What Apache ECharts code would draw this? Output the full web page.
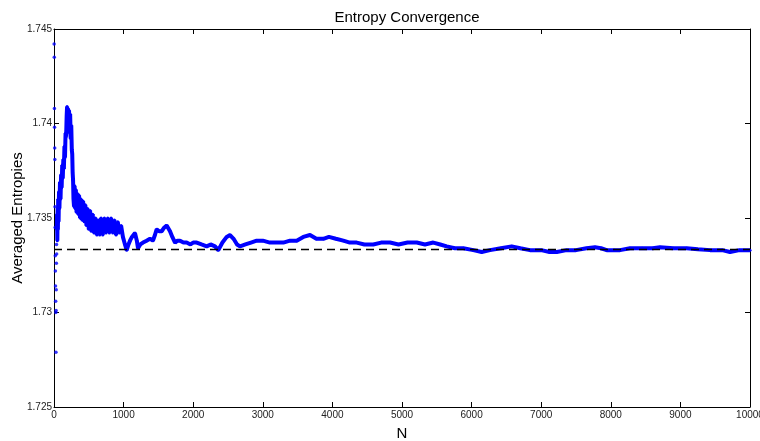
<!DOCTYPE html>
<html>
<head>
<meta charset="utf-8">
<script src="https://cdn.jsdelivr.net/npm/echarts@6/dist/echarts.min.js"></script>
<style>html,body{margin:0;padding:0;background:#fff}#c{width:760px;height:441px}</style>
</head>
<body>
<div id="c"></div>
<script>
// Early isolated averages (small N)
var earlyN = [2,4,6,8,10,12,14,16,18,20,22,24,26,28,30,32,34,36,38];
var earlyEntropy = [1.7442,1.7435,1.7408,1.7398,1.7387,1.7381,1.7356,1.7345,1.7330,1.7322,1.7314,1.7306,1.7300,1.7279,1.7301,1.7312,1.7326,1.7336,1.7331];

// Main averaged entropy trace
var traceN = [40,44,48,52,56,60,66,72,78,86,94,102,110,118,126,134,142,150,158,166,174,182,188,194,200,208,216,224,232,240,248,256,262,268,274,280,288,296,304,314,324,336,348,360,374,388,402,418,434,450,466,482,500,518,536,556,576,596,616,636,656,676,700,724,748,772,796,820,844,868,892,916,940,964,990,1020,1044,1070,1092,1120,1164,1190,1207,1240,1279,1330,1379,1422,1450,1475,1510,1547,1585,1619,1667,1700,1739,1775,1810,1860,1906,1960,2000,2050,2120,2194,2250,2313,2361,2420,2481,2529,2580,2630,2672,2750,2830,2912,3000,3103,3200,3295,3391,3487,3582,3678,3770,3870,3950,4050,4157,4250,4349,4460,4588,4700,4828,4950,5080,5211,5330,5450,5550,5642,5760,5881,6025,6145,6264,6420,6576,6700,6839,7000,7120,7223,7366,7500,7650,7773,7860,7941,8050,8132,8276,8450,8600,8707,8900,9091,9250,9425,9600,9713,9850,10000];
var traceEntropy = [1.7344,1.7352,1.7338,1.7355,1.7344,1.7360,1.7348,1.7364,1.7355,1.7369,1.7360,1.7373,1.7366,1.7378,1.7371,1.7381,1.7376,1.7388,1.7382,1.7395,1.7393,1.7404,1.7409,1.7400,1.7408,1.7398,1.7407,1.7395,1.7405,1.7392,1.7399,1.7386,1.7384,1.7374,1.7370,1.7360,1.7356,1.7367,1.7355,1.7365,1.7353,1.7363,1.7352,1.7362,1.7350,1.7360,1.7349,1.7359,1.7348,1.7357,1.7346,1.7355,1.7344,1.7354,1.7343,1.7352,1.7342,1.7350,1.7341,1.7349,1.7341,1.7350,1.7341,1.7350,1.7342,1.7350,1.7342,1.7350,1.7342,1.7349,1.7341,1.7348,1.7342,1.7346,1.7340,1.7336,1.7333,1.7336,1.7338,1.7340,1.7342,1.7338,1.7334,1.7336,1.7337,1.7338,1.7339,1.7338,1.7341,1.7344,1.7343,1.7343,1.7345,1.7346,1.7343,1.7340,1.7337,1.7338,1.7338,1.7337,1.7337,1.7336,1.7337,1.7337,1.7336,1.7335,1.7336,1.7335,1.7333,1.7337,1.7340,1.7341,1.7339,1.7336,1.7335,1.7336,1.7337,1.7338,1.7338,1.7337,1.7337,1.7337,1.7338,1.7338,1.7340,1.7341,1.7339,1.7339,1.7340,1.7339,1.7338,1.7337,1.7337,1.7336,1.7336,1.7337,1.7337,1.7336,1.7337,1.7337,1.7336,1.7337,1.7336,1.7335,1.7334,1.7334,1.7333,1.7332,1.7333,1.7334,1.7335,1.7334,1.7333,1.7333,1.7332,1.7332,1.7333,1.7333,1.7334,1.73345,1.7334,1.7333,1.7333,1.7333,1.7334,1.7334,1.7334,1.73345,1.7334,1.7334,1.73335,1.7333,1.7333,1.7332,1.7333,1.7333];

// Reference (true) entropy level
var refN = [0, 10000];
var refEntropy = [1.73333, 1.73333];

var xTicks = [0,1000,2000,3000,4000,5000,6000,7000,8000,9000,10000];
var yTicks = [1.725,1.73,1.735,1.74,1.745];

function pairs(a, b) { return a.map(function (v, i) { return [v, b[i]]; }); }

var chart = echarts.init(document.getElementById('c'), null, {renderer: 'canvas'});
var FONT = 'Liberation Sans, Arial, sans-serif';
var axisCommon = {
  axisLine: {show: true, onZero: false, lineStyle: {color: '#000', width: 1}},
  axisTick: {show: true, inside: true, length: 5, lineStyle: {color: '#000'}},
  splitLine: {show: false}
};
chart.setOption({
  animation: false,
  backgroundColor: '#fff',
  title: {
    text: 'Entropy Convergence', left: 402, top: 5, textAlign: 'center',
    textStyle: {fontFamily: FONT, fontSize: 15, fontWeight: 'normal', color: '#000'}
  },
  grid: {left: 54, right: 10, top: 29, bottom: 34, containLabel: false, outerBoundsMode: 'none'},
  xAxis: [
    Object.assign({
      type: 'value', min: 0, max: 10000, interval: 1000, position: 'bottom',
      name: 'N', nameLocation: 'middle', nameGap: 19, nameMoveOverlap: false,
      nameTextStyle: {fontFamily: FONT, fontSize: 15, color: '#000'},
      axisLabel: {fontFamily: FONT, fontSize: 10, color: '#222', margin: 3, hideOverlap: false,
        formatter: function (v) { return xTicks.indexOf(v) >= 0 ? String(v) : ''; }}
    }, axisCommon),
    Object.assign({
      type: 'value', min: 0, max: 10000, interval: 1000, position: 'top',
      axisLabel: {show: false}
    }, axisCommon)
  ],
  yAxis: [
    Object.assign({
      type: 'value', min: 1.725, max: 1.745, interval: 0.005, position: 'left',
      name: 'Averaged Entropies', nameLocation: 'middle', nameGap: 29, nameRotate: 90,
      nameMoveOverlap: false,
      nameTextStyle: {fontFamily: FONT, fontSize: 15, color: '#000'},
      axisLabel: {fontFamily: FONT, fontSize: 10, color: '#222', margin: 2,
        formatter: function (v) {
          for (var i = 0; i < yTicks.length; i++) {
            if (Math.abs(yTicks[i] - v) < 1e-9) return String(yTicks[i]);
          }
          return '';
        }}
    }, axisCommon),
    Object.assign({
      type: 'value', min: 1.725, max: 1.745, interval: 0.005, position: 'right',
      axisLabel: {show: false}
    }, axisCommon)
  ],
  series: [
    {
      type: 'line', data: pairs(traceN, traceEntropy), xAxisIndex: 0, yAxisIndex: 0,
      showSymbol: true, symbol: 'circle', symbolSize: 3,
      itemStyle: {color: '#0000ff'},
      lineStyle: {color: '#0000ff', width: 4},
      z: 2
    },
    {
      type: 'scatter', data: pairs(earlyN, earlyEntropy), xAxisIndex: 0, yAxisIndex: 0,
      symbol: 'circle', symbolSize: 3.5, itemStyle: {color: '#0000ff'}, z: 2
    },
    {
      type: 'line', data: pairs(refN, refEntropy), xAxisIndex: 0, yAxisIndex: 0,
      showSymbol: false, lineStyle: {color: '#000', width: 1.6, type: [8, 5]}, z: 5
    }
  ]
});
</script>
</body>
</html>
